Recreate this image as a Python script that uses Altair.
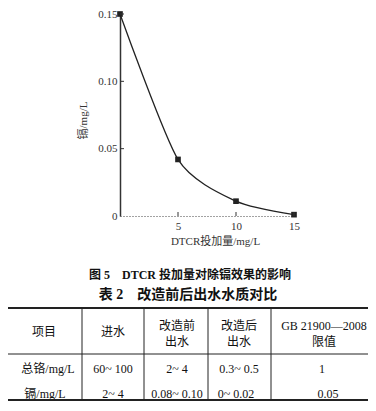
import altair as alt
import pandas as pd

# ---- chart data ----
dose = [0, 5, 10, 15]
cd = [0.150, 0.042, 0.011, 0.001]
y_ticks = [0, 0.05, 0.10, 0.15]
x_ticks = [5, 10, 15]

fig_caption = "图 5\u2003DTCR 投加量对除镉效果的影响"
table_caption = "表 2\u2003改造前后出水水质对比"
header = [["项目"], ["进水"], ["改造前", "出水"], ["改造后", "出水"], ["GB 21900—2008", "限值"]]
row_cr = ["总铬/mg/L", "60~ 100", "2~ 4", "0.3~ 0.5", "1"]
row_cd = ["镉/mg/L", "2~ 4", "0.08~ 0.10", "0~ 0.02", "0.05"]

# ---- layout (pixels, relative to plot area origin) ----
W, H = 174, 202
col_x = [-76, -7, 57, 119, 204]
row1_x = [-72, -7, 57, 119, 202]
row2_x = [-75, -7, 57, 116, 208]
vlines = [-38, 24, 88, 151]
serif = "Liberation Serif, Noto Sans CJK SC"
ink = "#222222"

df = pd.DataFrame({"dose": dose, "cd": cd})
xs = alt.Scale(domain=[0, 15], nice=False)
ys = alt.Scale(domain=[0, 0.15], nice=False)

line = alt.Chart(df).mark_line(interpolate="cardinal", tension=0.3, color=ink, strokeWidth=1.3).encode(
    x=alt.X("dose:Q", scale=xs, axis=alt.Axis(
        values=x_ticks, ticks=False, grid=False, labelFlush=False,
        domainColor="#444", domainDash=[1, 2], domainWidth=1,
        labelFont=serif, labelFontSize=11, labelColor="#333", labelPadding=4,
        title="DTCR投加量/mg/L", titleFont=serif, titleFontSize=11, titleFontWeight="normal",
        titleColor="#333", titleX=95, titleY=25, titleBaseline="middle", titleAlign="center")),
    y=alt.Y("cd:Q", scale=ys, axis=alt.Axis(
        values=y_ticks, ticks=False, grid=False, labelFlush=False,
        labelExpr="datum.value == 0 ? '0' : format(datum.value, '.2f')",
        domainColor="#333", domainWidth=1.5,
        labelFont=serif, labelFontSize=11, labelColor="#333", labelPadding=3,
        title="镉/mg/L", titleFont=serif, titleFontSize=11, titleFontWeight="normal",
        titleColor="#333", titleX=-37, titleY=106, titleAngle=-90,
        titleBaseline="middle", titleAlign="center")),
)
pts = alt.Chart(df).mark_square(size=32, color=ink, opacity=1, filled=True).encode(
    x=alt.X("dose:Q", scale=xs), y=alt.Y("cd:Q", scale=ys))

ytk = alt.Chart(pd.DataFrame({"v": y_ticks[1:]})).mark_rule(color="#333").encode(
    y=alt.Y("v:Q", scale=ys), x=alt.value(0), x2=alt.value(4))
xtk = alt.Chart(pd.DataFrame({"v": x_ticks})).mark_rule(color="#333").encode(
    x=alt.X("v:Q", scale=xs), y=alt.value(H), y2=alt.value(H - 4))

layers = [line, pts, ytk, xtk]

def txt(s, x, y, size=12, weight="normal", font=serif):
    return alt.Chart(pd.DataFrame({"t": [s]})).mark_text(
        font=font, fontSize=size, fontWeight=weight, color="#111",
        align="center", baseline="middle").encode(
        text="t:N", x=alt.value(x), y=alt.value(y))

layers.append(txt(fig_caption, 70, 261, size=12, weight="bold"))
layers.append(txt(table_caption, 68, 281, size=14, weight="bold"))

for i, h in enumerate(header):
    if len(h) == 1:
        layers.append(txt(h[0], col_x[i], 318))
    else:
        layers.append(txt(h[0], col_x[i], 312))
        layers.append(txt(h[1], col_x[i], 328))
for i, s in enumerate(row_cr):
    layers.append(txt(s, row1_x[i], 355))
for i, s in enumerate(row_cd):
    layers.append(txt(s, row2_x[i], 380))

def hrule(y, w):
    return alt.Chart(pd.DataFrame({"a": [0]})).mark_rule(color="#222", strokeWidth=w).encode(
        x=alt.value(-114), x2=alt.value(254), y=alt.value(y))

layers += [hrule(294, 2), hrule(340, 1), hrule(386, 2)]
for vx in vlines:
    layers.append(alt.Chart(pd.DataFrame({"a": [0]})).mark_rule(color="#222", strokeWidth=1).encode(
        x=alt.value(vx), y=alt.value(294), y2=alt.value(386)))

chart = alt.layer(*layers).properties(
    width=W, height=H,
    autosize=alt.AutoSizeParams(type="none"),
    padding={"left": 112, "top": 6, "right": 74, "bottom": 186},
).configure(background="white").configure_view(strokeWidth=0, stroke="transparent")

chart.save("out.html", embed_options={"renderer": "svg", "actions": False})
